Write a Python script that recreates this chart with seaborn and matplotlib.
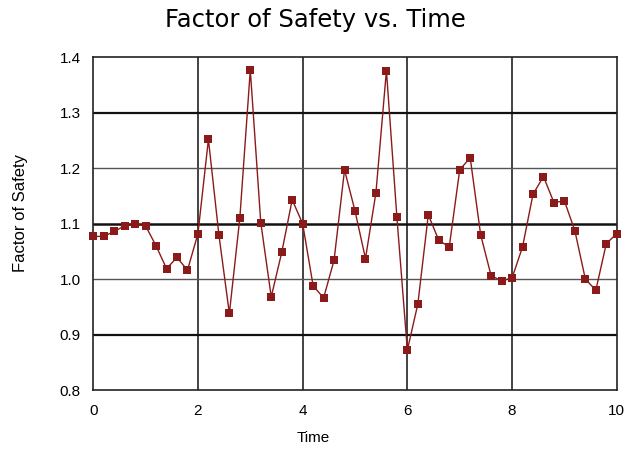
import matplotlib
matplotlib.use("Agg")
import matplotlib.pyplot as plt
import seaborn as sns
import numpy as np
import pandas as pd

time = [0.0, 0.2, 0.4, 0.6, 0.8, 1.0, 1.2, 1.4, 1.6, 1.8,
        2.0, 2.2, 2.4, 2.6, 2.8, 3.0, 3.2, 3.4, 3.6, 3.8,
        4.0, 4.2, 4.4, 4.6, 4.8, 5.0, 5.2, 5.4, 5.6, 5.8,
        6.0, 6.2, 6.4, 6.6, 6.8, 7.0, 7.2, 7.4, 7.6, 7.8,
        8.0, 8.2, 8.4, 8.6, 8.8, 9.0, 9.2, 9.4, 9.6, 9.8, 10.0]
factor_of_safety = [1.077, 1.077, 1.086, 1.096, 1.099, 1.096, 1.060, 1.019, 1.039, 1.016,
                    1.082, 1.252, 1.080, 0.938, 1.110, 1.377, 1.102, 0.968, 1.048, 1.143,
                    1.100, 0.988, 0.966, 1.034, 1.197, 1.123, 1.037, 1.156, 1.376, 1.112,
                    0.872, 0.955, 1.116, 1.070, 1.058, 1.197, 1.219, 1.080, 1.006, 0.997,
                    1.002, 1.058, 1.153, 1.185, 1.138, 1.141, 1.087, 1.000, 0.980, 1.064, 1.082]
x_ticks = [0, 2, 4, 6, 8, 10]
y_ticks = [0.8, 0.9, 1.0, 1.1, 1.2, 1.3, 1.4]

df = pd.DataFrame({"Time": time, "Factor of Safety": factor_of_safety})

sns.set_style("white")
plt.rcParams['font.family'] = ['Liberation Sans', 'DejaVu Sans']
plt.rcParams['text.color'] = 'black'
plt.rcParams['xtick.color'] = 'black'
plt.rcParams['ytick.color'] = 'black'
plt.rcParams['axes.labelcolor'] = 'black'

fig = plt.figure(figsize=(6.3, 4.5), dpi=100)
ax = fig.add_axes([0.148, 0.1333, 0.831, 0.7394])

color = "#8B1A1A"
sns.lineplot(data=df, x="Time", y="Factor of Safety", ax=ax, color=color,
             linewidth=1.0, marker="s", markersize=5.5, markeredgewidth=0,
             markerfacecolor=color, clip_on=False, zorder=5)

ax.set_xlim(0, 10)
ax.set_ylim(0.8, 1.4)
ax.set_xticks(x_ticks)
ax.set_xticklabels([str(t) for t in x_ticks])
ax.set_yticks(y_ticks)
ax.set_yticklabels([f"{v:.1f}" for v in y_ticks])

# grid lines
for xv in [2, 4, 6, 8]:
    ax.axvline(xv, color="#222222", linewidth=1.2, zorder=0)
for yv, lw, c in [(0.9, 1.6, "#111111"), (1.0, 1.0, "#555555"), (1.1, 1.8, "#111111"),
                  (1.2, 1.0, "#555555"), (1.3, 1.6, "#111111")]:
    ax.axhline(yv, color=c, linewidth=lw, zorder=0)

for s in ax.spines.values():
    s.set_visible(True)
    s.set_color("#222222")
    s.set_linewidth(1.2)

ax.tick_params(axis="both", which="major", direction="out", length=6, width=1,
               color="#222222", labelsize=11, pad=4)
ax.tick_params(axis="y", length=5)

ax.set_xlabel("Time", fontsize=11)
ax.xaxis.set_label_coords(0.5 - (355 - 313) / 522, -0.122)
ax.set_ylabel("Factor of Safety", fontsize=12)
ax.yaxis.set_label_coords(-0.125, (390 - 213) / 333)
fig.text(315.5 / 630, 1 - 20 / 450, "Factor of Safety vs. Time", fontsize=17.5,
         family=['DejaVu Sans'], ha="center", va="center")

fig.savefig("out.png", dpi=100, facecolor="white")
